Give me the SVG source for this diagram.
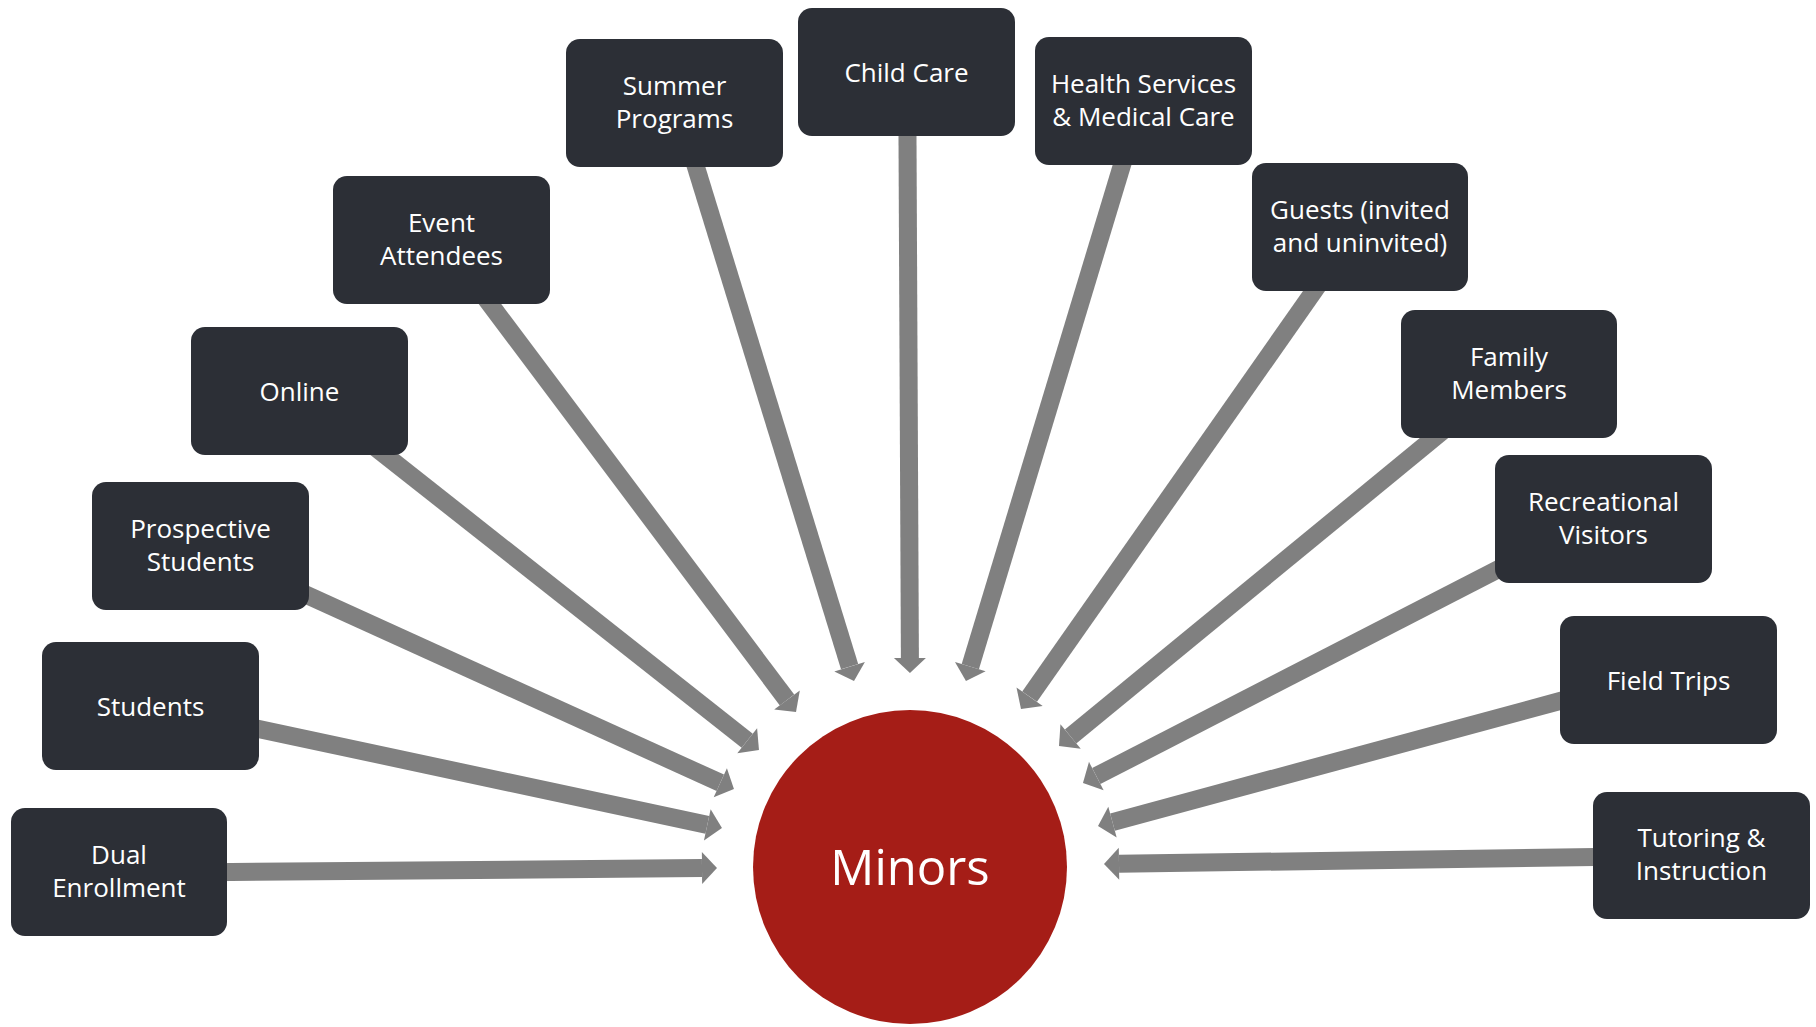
<svg xmlns="http://www.w3.org/2000/svg" width="1816" height="1027" viewBox="0 0 1816 1027">
<style>
.box{fill:#2c2f36;}
.lbl{fill:#ffffff;font-family:"Open Sans","Noto Sans","DejaVu Sans",sans-serif;font-size:26px;text-anchor:middle;}
.conn line{stroke:#808080;stroke-width:18;marker-end:url(#head);}
.hub{fill:#a51d17;}
.hubtxt{fill:#ffffff;font-family:"Open Sans","Noto Sans","DejaVu Sans",sans-serif;font-size:49px;text-anchor:middle;}
</style>
<defs>
<marker id="head" markerUnits="userSpaceOnUse" markerWidth="20" markerHeight="36" refX="0" refY="0" viewBox="0 -18 20 36" orient="auto" overflow="visible">
<path d="M0,-16 L15,0 L0,16 Z" fill="#808080"/>
</marker>
</defs>
<g id="connectors" class="conn">
<line x1="207" y1="872.2" x2="702" y2="868.1"/>
<line x1="239.4" y1="724.8" x2="707.3" y2="824.9"/>
<line x1="290.8" y1="587.7" x2="720.3" y2="782.8"/>
<line x1="369.3" y1="442.6" x2="747.2" y2="740.7"/>
<line x1="478" y1="288" x2="787" y2="700"/>
<line x1="690.1" y1="147.9" x2="849.6" y2="666.7"/>
<line x1="907.4" y1="116" x2="909.9" y2="658"/>
<line x1="1127.8" y1="145.9" x2="970.3" y2="666.6"/>
<line x1="1325.5" y1="274.6" x2="1029.6" y2="696.7"/>
<line x1="1449.5" y1="425.3" x2="1070.6" y2="736.5"/>
<line x1="1512.8" y1="561.8" x2="1096.3" y2="776.1"/>
<line x1="1579.3" y1="695.8" x2="1112.5" y2="822.1"/>
<line x1="1613" y1="856.7" x2="1119" y2="863.8"/>
</g>
<g id="minors">
<circle class="hub" cx="910" cy="867" r="157"/>
<text class="hubtxt" x="910" y="885">Minors</text>
</g>
<g id="dual-enrollment">
<rect class="box" x="11" y="808" width="216" height="128" rx="14"/>
<text class="lbl" x="119" y="864">Dual</text>
<text class="lbl" x="119" y="897">Enrollment</text>
</g>
<g id="students">
<rect class="box" x="42" y="642" width="217" height="128" rx="14"/>
<text class="lbl" x="150.5" y="716">Students</text>
</g>
<g id="prospective-students">
<rect class="box" x="92" y="482" width="217" height="128" rx="14"/>
<text class="lbl" x="200.5" y="538">Prospective</text>
<text class="lbl" x="200.5" y="571">Students</text>
</g>
<g id="online">
<rect class="box" x="191" y="327" width="217" height="128" rx="14"/>
<text class="lbl" x="299.5" y="401">Online</text>
</g>
<g id="event-attendees">
<rect class="box" x="333" y="176" width="217" height="128" rx="14"/>
<text class="lbl" x="441.5" y="232">Event</text>
<text class="lbl" x="441.5" y="265">Attendees</text>
</g>
<g id="summer-programs">
<rect class="box" x="566" y="39" width="217" height="128" rx="14"/>
<text class="lbl" x="674.5" y="95">Summer</text>
<text class="lbl" x="674.5" y="128">Programs</text>
</g>
<g id="child-care">
<rect class="box" x="798" y="8" width="217" height="128" rx="14"/>
<text class="lbl" x="906.5" y="82">Child Care</text>
</g>
<g id="health-services">
<rect class="box" x="1035" y="37" width="217" height="128" rx="14"/>
<text class="lbl" x="1143.5" y="93">Health Services</text>
<text class="lbl" x="1143.5" y="126">&amp; Medical Care</text>
</g>
<g id="guests">
<rect class="box" x="1252" y="163" width="216" height="128" rx="14"/>
<text class="lbl" x="1360" y="219">Guests (invited</text>
<text class="lbl" x="1360" y="252">and uninvited)</text>
</g>
<g id="family-members">
<rect class="box" x="1401" y="310" width="216" height="128" rx="14"/>
<text class="lbl" x="1509" y="366">Family</text>
<text class="lbl" x="1509" y="399">Members</text>
</g>
<g id="recreational-visitors">
<rect class="box" x="1495" y="455" width="217" height="128" rx="14"/>
<text class="lbl" x="1603.5" y="511">Recreational</text>
<text class="lbl" x="1603.5" y="544">Visitors</text>
</g>
<g id="field-trips">
<rect class="box" x="1560" y="616" width="217" height="128" rx="14"/>
<text class="lbl" x="1668.5" y="690">Field Trips</text>
</g>
<g id="tutoring-instruction">
<rect class="box" x="1593" y="792" width="217" height="127" rx="14"/>
<text class="lbl" x="1701.5" y="847">Tutoring &amp;</text>
<text class="lbl" x="1701.5" y="880">Instruction</text>
</g>
</svg>
